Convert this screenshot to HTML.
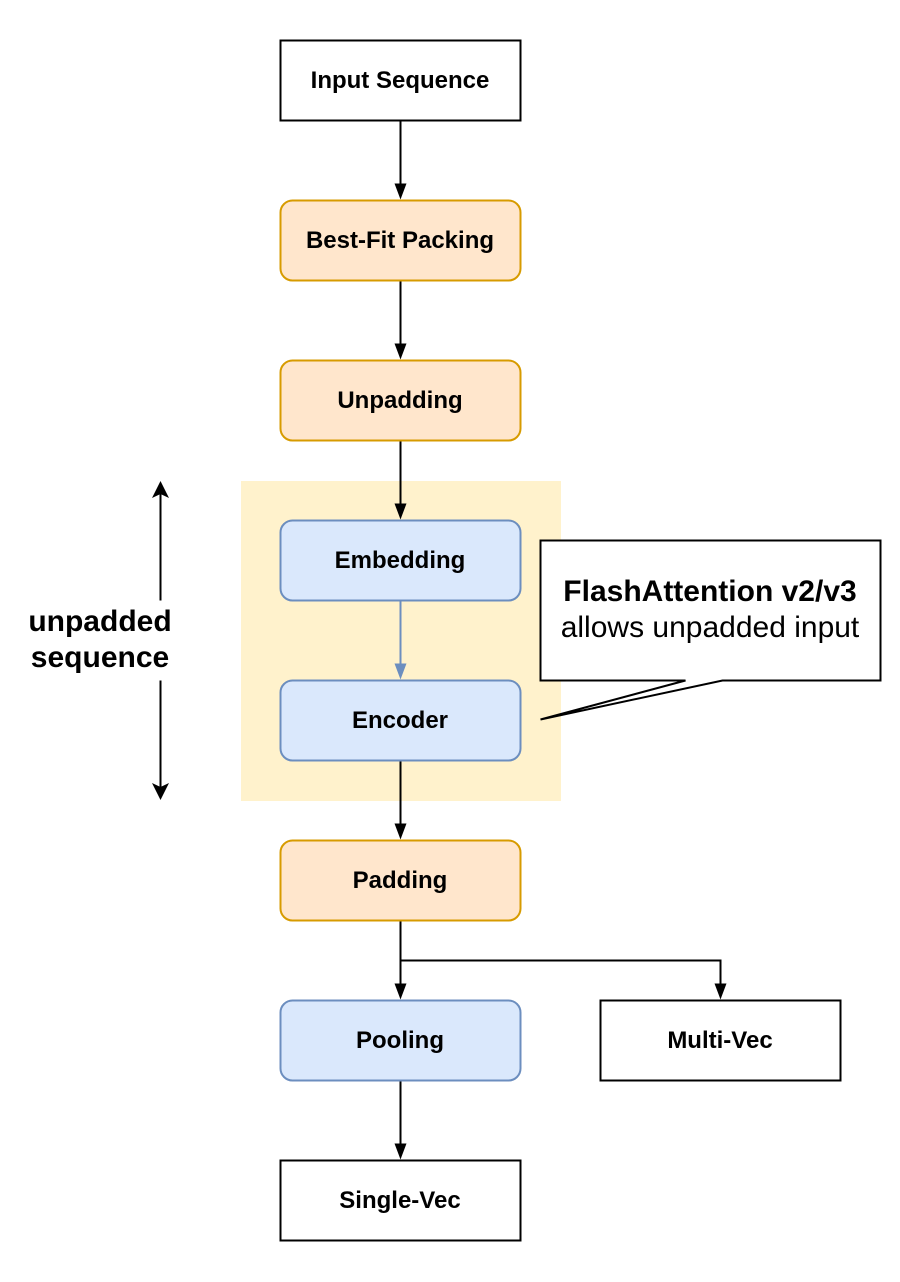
<!DOCTYPE html>
<html>
<head>
<meta charset="utf-8">
<style>
html,body{margin:0;padding:0;background:#fff;}
svg{display:block;}
text{font-family:"Liberation Sans",Arial,sans-serif;fill:#000;text-anchor:middle;}
.n{font-size:24px;font-weight:bold;}
.c{font-size:30px;}
.cb{font-size:30px;font-weight:bold;}
.k{fill:none;stroke:#000;stroke-width:2;}
.o{fill:#ffe6cc;stroke:#d79b00;stroke-width:2;}
.b{fill:#dae8fc;stroke:#6c8ebf;stroke-width:2;}
.w{fill:#fff;stroke:#000;stroke-width:2;}
</style>
</head>
<body>
<svg width="900" height="1282" viewBox="0 0 900 1282" xmlns="http://www.w3.org/2000/svg">
<rect x="0" y="0" width="900" height="1282" fill="#fff"/>
<rect x="241" y="481" width="320" height="320" fill="#fff2cc"/>

<g transform="translate(-0.5,-0.5)">
<!-- connectors -->
<path class="k" d="M401 121V188M401 281V348M401 441V508M401 761V828M401 921V988M401 961H721V988M401 1081V1148"/>
<path d="M401 601V668" fill="none" stroke="#6c8ebf" stroke-width="2"/>
<path d="M395 184L401 200L407 184Z M395 344L401 360L407 344Z M395 504L401 520L407 504Z M395 824L401 840L407 824Z M395 984L401 1000L407 984Z M715 984L721 1000L727 984Z M395 1144L401 1160L407 1144Z" fill="#000"/>
<path d="M395 664L401 680L407 664Z" fill="#6c8ebf"/>

<!-- nodes -->
<rect class="w" x="281" y="41" width="240" height="80"/>
<rect class="o" x="281" y="201" width="240" height="80" rx="12"/>
<rect class="o" x="281" y="361" width="240" height="80" rx="12"/>
<rect class="b" x="281" y="521" width="240" height="80" rx="12"/>
<rect class="b" x="281" y="681" width="240" height="80" rx="12"/>
<rect class="o" x="281" y="841" width="240" height="80" rx="12"/>
<rect class="b" x="281" y="1001" width="240" height="80" rx="12"/>
<rect class="w" x="601" y="1001" width="240" height="80"/>
<rect class="w" x="281" y="1161" width="240" height="80"/>

<!-- callout -->
<path class="w" d="M541 541H881V681H723L541 720L686 681H541Z"/>

<!-- double arrow -->
<path class="k" d="M161 601V490M161 681V790"/>
<path d="M161 481.500L152.500 498.500L161 494.500L169.500 498.500Z M161 800.500L152.500 783.500L161 787.500L169.500 783.500Z" fill="#000"/>
</g>

<text class="n" x="400" y="88">Input Sequence</text>
<text class="n" x="400" y="248">Best-Fit Packing</text>
<text class="n" x="400" y="408">Unpadding</text>
<text class="n" x="400" y="568">Embedding</text>
<text class="n" x="400" y="728">Encoder</text>
<text class="n" x="400" y="888">Padding</text>
<text class="n" x="400" y="1048">Pooling</text>
<text class="n" x="720" y="1048">Multi-Vec</text>
<text class="n" x="400" y="1208">Single-Vec</text>

<text class="cb" x="710" y="601">FlashAttention v2/v3</text>
<text class="c" x="710" y="637">allows unpadded input</text>

<text class="cb" x="100" y="631">unpadded</text>
<text class="cb" x="100" y="667">sequence</text>
</svg>
</body>
</html>
